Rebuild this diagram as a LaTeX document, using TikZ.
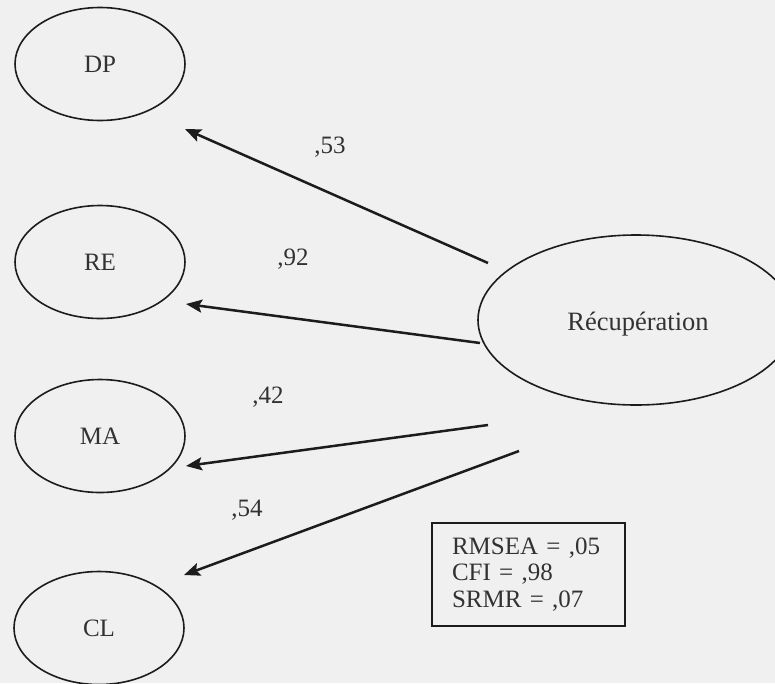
\documentclass[tikz,border=0pt]{standalone}
\usepackage{fontspec}
\setmainfont{Liberation Serif}
\usetikzlibrary{shapes.geometric,arrows.meta}
\definecolor{bg}{RGB}{240,240,240}
\definecolor{ink}{RGB}{28,28,28}
\definecolor{txt}{RGB}{50,50,50}
\begin{document}
\begin{tikzpicture}[x=1pt,y=-1pt,
  lat/.style={ellipse,draw=ink,line width=1.6pt,minimum width=170pt,minimum height=113pt,inner sep=0pt,font=\fontsize{25}{27}\selectfont,text=txt},
  pathar/.style={draw=ink,line width=2.5pt,-{Stealth[length=16pt,width=13pt,inset=3pt]}},
  coef/.style={font=\fontsize{25}{27}\selectfont,text=txt,inner sep=0pt}]
\fill[bg] (0,0) rectangle (775,683);
\useasboundingbox (0,0) rectangle (775,683);
\node[lat] (dp) at (100,64) {DP};
\node[lat] (re) at (100,262) {RE};
\node[lat] (ma) at (100,436) {MA};
\node[lat] (cl) at (99,628) {CL};
\node[lat,minimum width=316pt,minimum height=170pt] (rec) at (636,320) {};
\node[coef,font=\fontsize{26.5}{28}\selectfont] (rectext) at (638,324) {Récupération};
\coordinate (s1) at (488,263);
\coordinate (t1) at (185,129);
\coordinate (s2) at (480,343);
\coordinate (t2) at (186,304);
\coordinate (s3) at (488,425);
\coordinate (t3) at (186,466);
\coordinate (s4) at (519,451);
\coordinate (t4) at (184,575);
\draw[pathar] (s1) -- (t1);
\draw[pathar] (s2) -- (t2);
\draw[pathar] (s3) -- (t3);
\draw[pathar] (s4) -- (t4);
\node[coef] (c1) at (330,147) {,53};
\node[coef] (c2) at (293,259) {,92};
\node[coef] (c3) at (268,397) {,42};
\node[coef] (c4) at (247,510) {,54};
\node[draw=ink,line width=1.6pt,minimum width=193pt,minimum height=103pt,inner xsep=0pt,text width=153pt,align=left,font=\fontsize{25}{26.5}\selectfont,text=txt] (fit) at (528.5,574.5) {RMSEA = ,05\\CFI = ,98\\SRMR = ,07};
\end{tikzpicture}
\end{document}
